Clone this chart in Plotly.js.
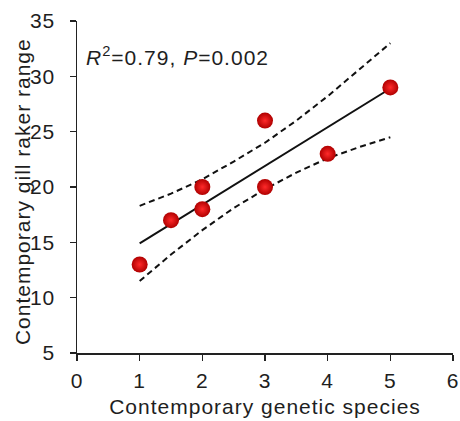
<!DOCTYPE html>
<html>
<head>
<meta charset="utf-8">
<script src="https://cdn.plot.ly/plotly-3.0.1.min.js"></script>
<style>
  html, body { margin: 0; padding: 0; background: #fff; }
  #chart { width: 460px; height: 421px; }
  #chart text { letter-spacing: 1px; }
</style>
</head>
<body>
<div id="chart"></div>
<script>
// Observed lineages: number of genetic species vs gill raker range
const speciesCount = [1, 1.5, 2, 2, 3, 3, 4, 5];
const gillRakerRange = [13, 17, 20, 18, 26, 20, 23, 29];

// Fitted regression line (end points)
const fitX = [1, 5];
const fitY = [14.9, 28.9];

// 95% confidence band around the fit
const bandX = [1, 1.5, 2, 2.5, 3, 3.5, 4, 4.5, 5];
const bandUpper = [18.3, 19.4, 20.7, 22.3, 24.0, 26.0, 28.2, 30.6, 33.0];
const bandLower = [11.5, 13.9, 16.1, 18.1, 19.8, 21.3, 22.6, 23.6, 24.5];

const xTicks = [0, 1, 2, 3, 4, 5, 6];
const yTicks = [5, 10, 15, 20, 25, 30, 35];

const xTitle = 'Contemporary genetic species';
const yTitle = 'Contemporary gill raker range';
const statsLabel = '<i>R</i><sup>2</sup>=0.79, <i>P</i>=0.002';

const textColor = '#1e1e1e';
const font = { family: 'Arial, "Liberation Sans", sans-serif', size: 21, color: textColor };

const dashStyle = { color: '#111', width: 2, dash: '6px,4px' };

const traces = [
  { x: bandX, y: bandUpper, mode: 'lines', line: dashStyle, hoverinfo: 'skip' },
  { x: bandX, y: bandLower, mode: 'lines', line: dashStyle, hoverinfo: 'skip' },
  { x: fitX, y: fitY, mode: 'lines', line: { color: '#111', width: 2 } },
  {
    x: speciesCount, y: gillRakerRange, mode: 'markers',
    marker: {
      size: 16, color: '#b00000',
      gradient: { type: 'radial', color: '#ff2a2a' },
      line: { width: 0 }
    }
  }
];

const axisCommon = {
  showgrid: false, zeroline: false, showline: true,
  linecolor: '#222', linewidth: 1.5,
  ticks: 'outside', ticklen: 6, tickwidth: 1.5, tickcolor: '#222',
  tickfont: font, fixedrange: true
};

const layout = {
  width: 460, height: 421,
  margin: { l: 77, r: 7, t: 21, b: 68 },
  paper_bgcolor: '#fff', plot_bgcolor: '#fff',
  showlegend: false,
  font: font,
  xaxis: Object.assign({}, axisCommon, {
    range: [0, 6], tickvals: xTicks, ticktext: xTicks.map(String),
    ticklabelstandoff: 2,
    title: { text: xTitle, font: font, standoff: 8 }
  }),
  yaxis: Object.assign({}, axisCommon, {
    range: [5, 35], tickvals: yTicks, ticktext: yTicks.map(String),
    ticklabelstandoff: 10
  }),
  annotations: [
    {
      x: 0.236, y: 31.85, xref: 'x', yref: 'y',
      xanchor: 'left', yanchor: 'middle', showarrow: false,
      text: statsLabel, font: font
    },
    {
      x: -0.146, y: 0.4865, xref: 'paper', yref: 'paper',
      xanchor: 'center', yanchor: 'middle', showarrow: false,
      textangle: -90, text: yTitle, font: font
    }
  ]
};

Plotly.newPlot('chart', traces, layout, { displayModeBar: false, staticPlot: true });
</script>
</body>
</html>
